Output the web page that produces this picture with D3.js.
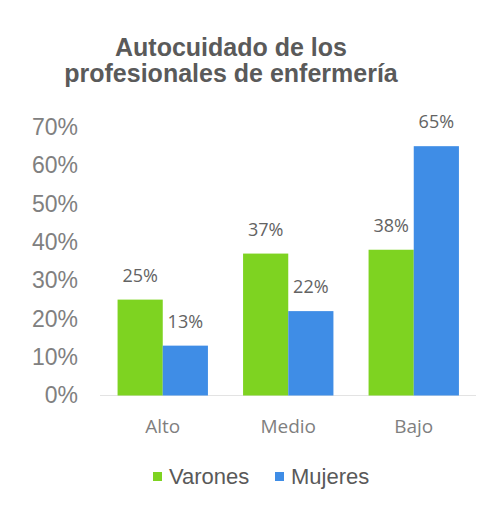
<!DOCTYPE html>
<html>
<head>
<meta charset="utf-8">
<script src="https://cdn.jsdelivr.net/npm/d3@7"></script>
<style>
  body { margin: 0; background: #fff; }
</style>
</head>
<body>
<div id="chart"></div>
<script>
// data
var categories = ["Alto", "Medio", "Bajo"];
var series = ["Varones", "Mujeres"];
var varones = [25, 37, 38];
var mujeres = [13, 22, 65];
var yTicks = [0, 10, 20, 30, 40, 50, 60, 70];
var titleLines = ["Autocuidado de los", "profesionales de enfermería"];

var w = 498, h = 505;
var colors = ["#7ed321", "#3f8de6"];

var svg = d3.select("#chart").append("svg")
    .attr("width", w)
    .attr("height", h);

svg.append("rect").attr("width", w).attr("height", h).attr("fill", "#fff");

// title
svg.append("g").selectAll("text")
    .data(titleLines)
    .enter()
    .append("text")
    .text(function (d) { return d; })
    .attr("x", 231)
    .attr("y", function (d, i) { return 56 + i * 26; })
    .attr("text-anchor", "middle")
    .attr("font-family", "Liberation Sans, Arial, sans-serif")
    .attr("font-weight", "bold")
    .attr("font-size", "25px")
    .attr("fill", "#5a5a5a");

var xScale = d3.scaleBand()
    .domain(categories)
    .range([100, 476.5])
    .paddingInner(0.28)
    .paddingOuter(0.14);

var xSub = d3.scaleBand()
    .domain(series)
    .range([0, xScale.bandwidth()]);

var yScale = d3.scaleLinear()
    .domain([0, 70])
    .range([395.5, 127]);

// y axis labels
var yAxis = d3.axisLeft(yScale)
    .tickValues(yTicks)
    .tickSize(0)
    .tickPadding(0)
    .tickFormat(function (d) { return d + "%"; });

var gy = svg.append("g")
    .attr("transform", "translate(78,0)")
    .call(yAxis);
gy.select(".domain").remove();
gy.selectAll("text")
    .attr("font-family", "Liberation Sans, Arial, sans-serif")
    .attr("font-size", "23px")
    .attr("fill", "#808080");

// baseline
svg.append("line")
    .attr("x1", 100).attr("x2", 476)
    .attr("y1", yScale(0)).attr("y2", yScale(0))
    .attr("stroke", "#e3e3e3")
    .attr("stroke-width", 1);

var rows = categories.map(function (c, i) {
    return [{cat: c, s: "Varones", v: varones[i]}, {cat: c, s: "Mujeres", v: mujeres[i]}];
});

var groups = svg.append("g").selectAll("g")
    .data(rows)
    .enter()
    .append("g")
    .attr("transform", function (d) { return "translate(" + xScale(d[0].cat) + ",0)"; });

groups.selectAll("rect")
    .data(function (d) { return d; })
    .enter()
    .append("rect")
    .attr("x", function (d) { return xSub(d.s); })
    .attr("y", function (d) { return yScale(d.v); })
    .attr("width", xSub.bandwidth())
    .attr("height", function (d) { return yScale(0) - yScale(d.v); })
    .attr("fill", function (d, i) { return colors[i]; });

groups.selectAll("text")
    .data(function (d) { return d; })
    .enter()
    .append("text")
    .text(function (d) { return d.v + "%"; })
    .attr("x", function (d) { return xSub(d.s) + xSub.bandwidth() / 2; })
    .attr("y", function (d) { return yScale(d.v) - 18; })
    .attr("text-anchor", "middle")
    .attr("font-family", "Open Sans, sans-serif")
    .attr("font-size", "18px")
    .attr("fill", "#636363");

// category labels
svg.append("g").selectAll("text")
    .data(categories)
    .enter()
    .append("text")
    .text(function (d) { return d; })
    .attr("x", function (d) { return xScale(d) + xScale.bandwidth() / 2; })
    .attr("y", 433)
    .attr("text-anchor", "middle")
    .attr("font-family", "Open Sans, sans-serif")
    .attr("font-size", "19px")
    .attr("fill", "#7f7f7f");

// legend
var legendX = [153, 275];
var legend = svg.append("g").selectAll("g")
    .data(series)
    .enter()
    .append("g")
    .attr("transform", function (d, i) { return "translate(" + legendX[i] + ",0)"; });

legend.append("rect")
    .attr("x", 0).attr("y", 472)
    .attr("width", 9).attr("height", 9)
    .attr("fill", function (d, i) { return colors[i]; });

legend.append("text")
    .text(function (d) { return d; })
    .attr("x", 16)
    .attr("y", 484)
    .attr("font-family", "Liberation Sans, Arial, sans-serif")
    .attr("font-size", "22px")
    .attr("fill", "#595959");
</script>
</body>
</html>
